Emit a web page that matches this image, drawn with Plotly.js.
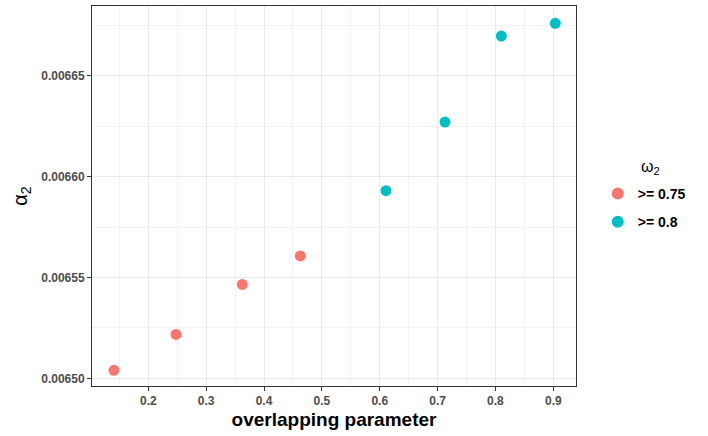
<!DOCTYPE html>
<html>
<head>
<meta charset="utf-8">
<script src="https://cdn.plot.ly/plotly-3.0.1.min.js"></script>
<style>html,body{margin:0;padding:0;background:#fff;}#chart{width:708px;height:436px;}</style>
</head>
<body>
<div id="chart"></div>
<script>
// Data
const groupNames = [">= 0.75", ">= 0.8"];
const overlapA = [0.1407, 0.2479, 0.3625, 0.4627];
const alphaA = [0.006504, 0.0065218, 0.0065466, 0.0065607];
const overlapB = [0.6108, 0.7128, 0.8101, 0.9034];
const alphaB = [0.0065931, 0.0066271, 0.0066698, 0.0066761];
const groupColors = ["#F8766D", "#00BFC4"];
const legendTitle = "ω<sub>2</sub>";

const traces = [
  {x: overlapA, y: alphaA, name: groupNames[0], legendgroup: "a", type: "scatter", mode: "markers",
   marker: {color: groupColors[0], size: 11}},
  {x: overlapB, y: alphaB, name: groupNames[1], legendgroup: "b", type: "scatter", mode: "markers",
   marker: {color: groupColors[1], size: 11}}
];

const fam = "Liberation Sans, Arial, sans-serif";
const tickFont = {family: fam, size: 12, color: "#4D4D4D", weight: "bold"};

const layout = {
  width: 708, height: 436,
  margin: {l: 92, r: 132, t: 6, b: 50},
  paper_bgcolor: "#fff", plot_bgcolor: "#fff",
  showlegend: true,
  xaxis: {
    range: [0.1027, 0.9392], dtick: 0.1, tick0: 0,
    showgrid: true, gridcolor: "#EBEBEB", gridwidth: 1,
    minor: {dtick: 0.05, tick0: 0, showgrid: true, gridcolor: "#EBEBEB", gridwidth: 0.6, ticks: ""},
    zeroline: false, showline: true, mirror: true, linecolor: "#333333", linewidth: 1,
    ticks: "outside", ticklen: 4, tickcolor: "#333333", tickwidth: 1,
    tickfont: tickFont,
    title: {text: "overlapping parameter", font: {family: fam, size: 19, color: "#000", weight: "bold"}, standoff: 5}
  },
  yaxis: {
    range: [0.0064962, 0.0066847], dtick: 0.00005, tick0: 0.0065, tickformat: ".5f",
    showgrid: true, gridcolor: "#EBEBEB", gridwidth: 1,
    minor: {dtick: 0.000025, tick0: 0.0065, showgrid: true, gridcolor: "#EBEBEB", gridwidth: 0.6, ticks: ""},
    zeroline: false, showline: true, mirror: true, linecolor: "#333333", linewidth: 1,
    ticks: "outside", ticklen: 4, tickcolor: "#333333", tickwidth: 1,
    tickfont: tickFont,
    title: {text: "α<sub>2</sub>", font: {family: fam, size: 20, color: "#000"}, standoff: 8}
  },
  legend: {
    x: 1.045, xanchor: "left", y: (386 - 208) / 380, yanchor: "middle",
    font: {family: fam, size: 14, color: "#000", weight: "bold"},
    bgcolor: "rgba(0,0,0,0)", itemsizing: "constant", tracegroupgap: 7
  },
  annotations: [{
    text: legendTitle, xref: "paper", yref: "paper",
    x: (650 - 92) / 484, y: (386 - 167) / 380, xanchor: "center", yanchor: "middle",
    showarrow: false, font: {family: fam, size: 16, color: "#000"}
  }]
};

Plotly.newPlot("chart", traces, layout, {displayModeBar: false, staticPlot: true});
</script>
</body>
</html>
